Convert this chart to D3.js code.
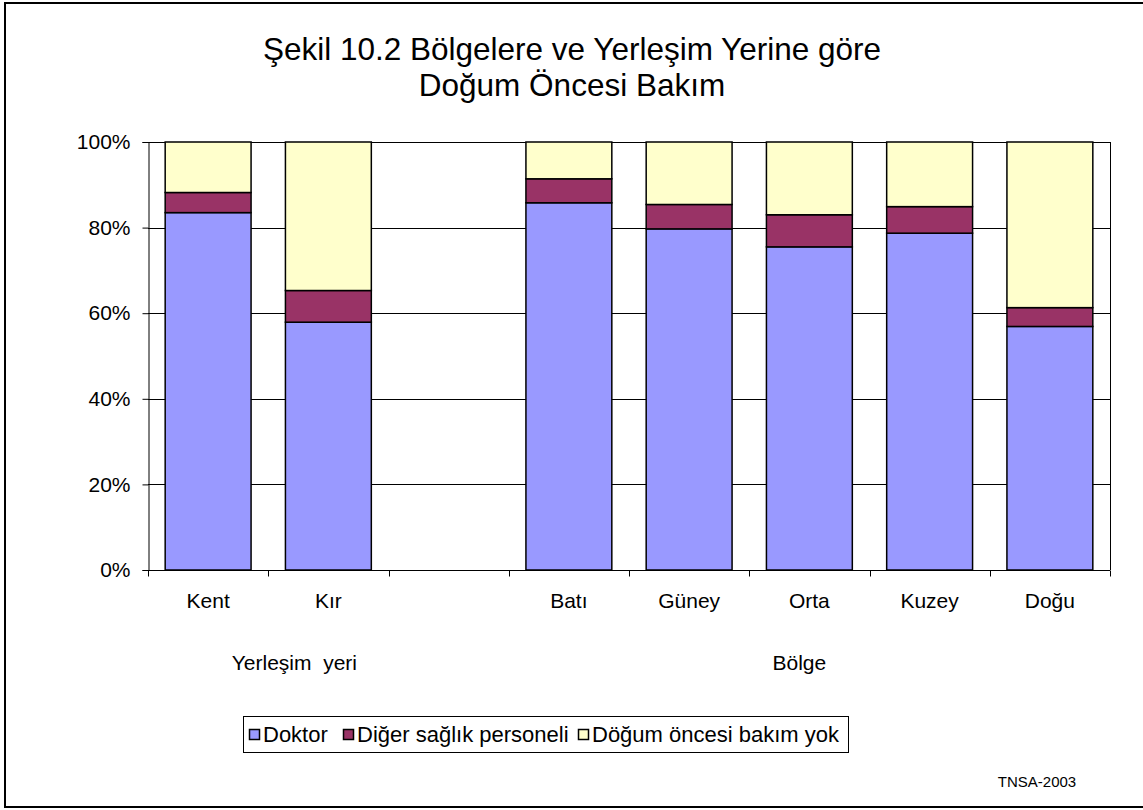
<!DOCTYPE html>
<html>
<head>
<meta charset="utf-8">
<script src="https://cdn.jsdelivr.net/npm/d3@7"></script>
<style>
  html, body { margin: 0; padding: 0; background: #fff; }
  svg { display: block; }
  text { font-family: "Liberation Sans", Arial, sans-serif; fill: #000; }
</style>
</head>
<body>
<svg id="chart" width="1143" height="810"></svg>
<script>
const categories = ["Kent", "Kır", "", "Batı", "Güney", "Orta", "Kuzey", "Doğu"];
const seriesNames = ["Doktor", "Diğer sağlık personeli", "Döğum öncesi bakım yok"];
const doktor = [83.5, 57.9, null, 85.8, 79.7, 75.5, 78.7, 56.9];
const diger  = [4.7, 7.4, null, 5.6, 5.7, 7.5, 6.2, 4.4];
const yok    = [11.8, 34.7, null, 8.6, 14.6, 17.0, 15.1, 38.7];
const yTicks = [0, 0.2, 0.4, 0.6, 0.8, 1.0];
const groups = [
  { label: "Yerleşim  yeri", from: "Kent", to: "" },
  { label: "Bölge", from: "Batı", to: "Doğu" }
];
const titleLines = ["Şekil 10.2 Bölgelere ve Yerleşim Yerine göre", "Doğum Öncesi Bakım"];
const sourceNote = "TNSA-2003";
const colors = ["#9999FF", "#993366", "#FFFFCC"];

const svg = d3.select("#chart");

// outer frame
svg.append("rect").attr("x", 5).attr("y", 3).attr("width", 1150).attr("height", 804)
  .attr("fill", "#fff").attr("stroke", "#000").attr("stroke-width", 2);

// title
const title = svg.append("text").attr("text-anchor", "middle").style("font-size", "31.5px");
titleLines.forEach((t, i) => {
  title.append("tspan").attr("x", 572).attr("y", 60 + i * 36).text(t);
});

const plot = { left: 148, right: 1110, top: 142, bottom: 570 };

const x = d3.scaleBand().domain(categories.map((c, i) => i))
  .range([plot.left, plot.right]).paddingInner(0.2857).paddingOuter(0.14285);
const y = d3.scaleLinear().domain([0, 1]).range([plot.bottom, plot.top]);

// gridlines
svg.append("g").selectAll("line").data(yTicks).join("line")
  .attr("x1", plot.left).attr("x2", plot.right)
  .attr("y1", d => Math.round(y(d)) + 0.5).attr("y2", d => Math.round(y(d)) + 0.5)
  .attr("stroke", "#000").attr("stroke-width", 1);

// plot border right
svg.append("line").attr("x1", plot.right + 0.5).attr("x2", plot.right + 0.5)
  .attr("y1", plot.top).attr("y2", plot.bottom).attr("stroke", "#000");

// data
const rows = categories.map((c, i) => ({ i, a: doktor[i], b: diger[i], c: yok[i] }));
const stack = d3.stack().keys(["a", "b", "c"]);
const stacked = stack(rows.filter(r => r.a !== null).map(r => ({ i: r.i, a: r.a / 100, b: r.b / 100, c: r.c / 100 })));

svg.append("g").selectAll("g").data(stacked).join("g")
  .attr("fill", (d, k) => colors[k])
  .selectAll("rect").data(d => d).join("rect")
  .attr("x", d => x(d.data.i))
  .attr("width", x.bandwidth())
  .attr("y", d => y(d[1]))
  .attr("height", d => y(d[0]) - y(d[1]))
  .attr("stroke", "#000").attr("stroke-width", 1.5);

// y axis
const yAxis = d3.axisLeft(y).tickValues(yTicks).tickFormat(d3.format(".0%"))
  .tickSize(6).tickPadding(12);
const gy = svg.append("g").attr("transform", `translate(${plot.left + 0.5},0)`).call(yAxis);
gy.select(".domain").attr("stroke", "#000");
gy.selectAll(".tick line").attr("stroke", "#000");
gy.selectAll(".tick text").style("font-size", "21px").style("font-family", '"Liberation Sans", Arial, sans-serif').attr("fill", "#000");

// x axis
const gx = svg.append("g").attr("transform", `translate(0,${plot.bottom + 0.5})`);
gx.append("line").attr("x1", plot.left).attr("x2", plot.right).attr("stroke", "#000");
const tickPos = d3.range(categories.length + 1).map(k => plot.left + k * (plot.right - plot.left) / categories.length);
gx.selectAll("line.t").data(tickPos).join("line").attr("class", "t")
  .attr("x1", d => Math.round(d) + 0.5).attr("x2", d => Math.round(d) + 0.5)
  .attr("y1", 0).attr("y2", 6).attr("stroke", "#000");
gx.selectAll("text.c").data(categories.map((c, i) => ({ c, i }))).join("text").attr("class", "c")
  .attr("x", d => x(d.i) + x.bandwidth() / 2).attr("y", 37)
  .attr("text-anchor", "middle").style("font-size", "21px").text(d => d.c);

// group labels
svg.selectAll("text.g").data(groups).join("text").attr("class", "g")
  .attr("x", d => {
    const a = x(categories.indexOf(d.from));
    const b = x(categories.indexOf(d.to)) + x.bandwidth();
    return d.label.startsWith("Bölge") ? (a + b) / 2 - 10 : (a + b) / 2 - 34;
  })
  .attr("y", 670).attr("text-anchor", "middle").style("font-size", "21px")
  .style("white-space", "pre").attr("xml:space", "preserve").text(d => d.label);

// legend
const lg = svg.append("g");
lg.append("rect").attr("x", 243.5).attr("y", 716.5).attr("width", 605).attr("height", 36)
  .attr("fill", "#fff").attr("stroke", "#000");
const legendX = [249, 343, 578];
seriesNames.forEach((n, k) => {
  lg.append("rect").attr("x", legendX[k] + 0.5).attr("y", 729.5).attr("width", 10).attr("height", 10)
    .attr("fill", colors[k]).attr("stroke", "#000").attr("stroke-width", 1.5);
  lg.append("text").attr("x", legendX[k] + 14).attr("y", 742).style("font-size", "22px").text(n);
});

// source
svg.append("text").attr("x", 1037).attr("y", 787).attr("text-anchor", "middle")
  .style("font-size", "15px").text(sourceNote);
</script>
</body>
</html>
